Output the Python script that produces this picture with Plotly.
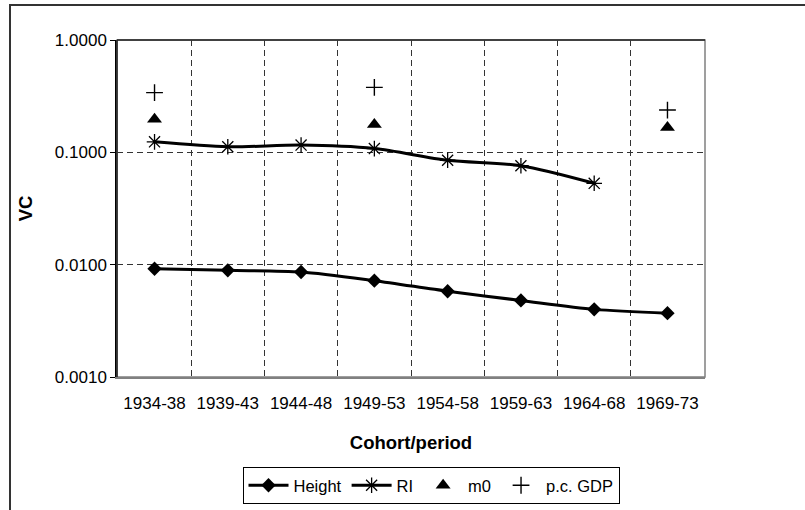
import plotly.graph_objects as go

categories = ["1934-38", "1939-43", "1944-48", "1949-53", "1954-58", "1959-63", "1964-68", "1969-73"]
height_vc = [0.0092, 0.0089, 0.0086, 0.0072, 0.0058, 0.0048, 0.0040, 0.0037]
ri_vc = [0.124, 0.112, 0.116, 0.108, 0.085, 0.076, 0.053, None]
m0_vc = [0.197, None, None, 0.177, None, None, None, 0.166]
gdp_vc = [0.340, None, None, 0.379, None, None, None, 0.238]
y_tickvals = [0.001, 0.01, 0.1, 1]
y_ticktext = ["0.0010", "0.0100", "0.1000", "1.0000"]

FONT = "Arial, Liberation Sans, sans-serif"
W, H = 805, 510
ML, MR, MT, MB = 117, 100, 40, 133
PW, PH = W - ML - MR, H - MT - MB

fig = go.Figure()
fig.add_trace(go.Scatter(
    x=categories, y=height_vc, name="Height", mode="lines+markers",
    line=dict(color="black", width=3, shape="spline", smoothing=0.8),
    marker=dict(symbol="diamond", size=11, color="black"),
))
fig.add_trace(go.Scatter(
    x=categories, y=ri_vc, name="RI", mode="lines+markers",
    line=dict(color="black", width=3, shape="spline", smoothing=0.8),
    marker=dict(symbol="asterisk-open", size=13, color="black", line=dict(color="black", width=1.3)),
))
fig.add_trace(go.Scatter(
    x=categories, y=m0_vc, name="m0", mode="markers",
    marker=dict(symbol="triangle-up", size=13, color="black"),
))
fig.add_trace(go.Scatter(
    x=categories, y=gdp_vc, name="p.c. GDP", mode="markers",
    marker=dict(symbol="cross-thin-open", size=12, color="black", line=dict(color="black", width=1.4)),
))

fig.update_xaxes(
    type="category", tickson="boundaries", ticks="",
    showgrid=True, gridcolor="#333333", gridwidth=1, griddash="6px,4px",
    showline=True, linecolor="#808080", linewidth=1.5,
    tickfont=dict(family=FONT, size=17, color="black"),
    title=dict(text="<b>Cohort/period</b>", font=dict(family=FONT, size=18.5, color="black"), standoff=24),
    ticklabelstandoff=10,
)
fig.update_yaxes(
    type="log", range=[-3, 0], tickvals=y_tickvals, ticktext=y_ticktext,
    ticks="outside", ticklen=5, tickcolor="black", tickwidth=1,
    showgrid=True, gridcolor="#333333", gridwidth=1, griddash="6px,4px",
    showline=True, linecolor="black", linewidth=1.5, zeroline=False,
    tickfont=dict(family=FONT, size=17, color="black"),
    title=dict(text="<b>VC</b>", font=dict(family=FONT, size=18.5, color="black"), standoff=17),
)

shapes = [
    dict(type="rect", xref="paper", yref="paper", x0=0, x1=1, y0=0, y1=1,
         line=dict(color="#808080", width=1.5), layer="above"),
    dict(type="line", xref="paper", yref="paper", x0=0, x1=1, y0=1, y1=1,
         line=dict(color="#222222", width=1.5), layer="above"),
    dict(type="line", xref="paper", yref="paper", x0=0, x1=0, y0=0, y1=1,
         line=dict(color="#222222", width=1.5), layer="above"),
    dict(type="rect", xref="paper", yref="paper",
         x0=(10 - ML) / PW, x1=(W + 50 - ML) / PW,
         y0=(H - MB - (H + 50)) / PH, y1=(H - MB - 5) / PH,
         line=dict(color="#333333", width=2), layer="above"),
]

fig.update_layout(
    width=W, height=H,
    margin=dict(l=ML, r=MR, t=MT, b=MB, autoexpand=False),
    paper_bgcolor="white", plot_bgcolor="white",
    font=dict(family=FONT, color="black"),
    showlegend=True,
    legend=dict(
        orientation="h", x=(431 - ML) / PW, xanchor="center",
        y=(H - MB - 467) / PH, yanchor="top",
        bordercolor="black", borderwidth=1, bgcolor="white",
        font=dict(family=FONT, size=16.5, color="black"),
        itemwidth=40, tracegroupgap=0,
    ),
    shapes=shapes,
)

fig.write_html("out.html")
